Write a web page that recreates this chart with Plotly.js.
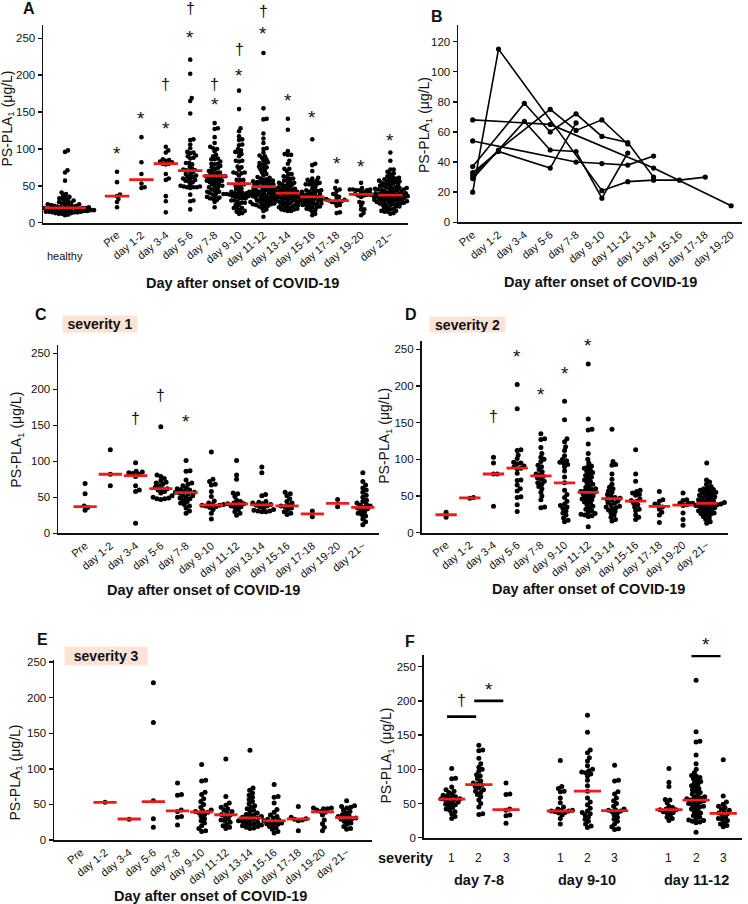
<!DOCTYPE html>
<html><head><meta charset="utf-8">
<script src="https://cdn.plot.ly/plotly-3.0.1.min.js"></script>
<style>html,body{margin:0;padding:0;background:#fff;} #chart{width:748px;height:904px;}</style>
</head><body><div id="chart"></div>
<script>
// ---------------- DATA ----------------
const dayLabels = ['Pre','day 1-2','day 3-4','day 5-6','day 7-8','day 9-10','day 11-12','day 13-14','day 15-16','day 17-18','day 19-20','day 21~'];

const healthyValues = [98,96,71,68,57,41,39,37,35,34,33,32,31,30,29,28,27,26,26,25,25,24,24,23,23,22,22,22,21,21,21,20,20,20,20,19,19,19,19,18,18,18,18,17,17,17,17,17,16,16,16,16,16,15,15,15,15,14,14,14,13,13,12,12,11,10];
const healthyMedian = 20;

// severity 1 (panel C), one list per day category
const sev1Values = [
  [69,55,38,36,32],
  [116,82,66],
  [98,86,85,84,83,82,79,66,60,58,14],
  [148,81,79,76,73,71,70,68,66,64,62,62,60,58,56,52,50,49,48,48,47],
  [101,87,86,74,70,68,66,63,62,61,60,58,57,57,56,55,53,52,50,49,48,46,44,42,40,38,35,31,28],
  [113,75,72,68,67,58,51,45,42,40,40,39,39,38,37,36,33,28,20],
  [101,81,75,56,55,51,46,44,42,41,41,40,38,37,36,33,30,28,25],
  [92,84,54,52,44,43,42,41,40,39,38,37,35,33,32,31,31,30,30],
  [57,55,52,48,44,42,39,38,37,35,33,30,28,26],
  [31,23],
  [47,37],
  [84,72,67,63,60,57,53,50,46,44,42,40,39,38,36,35,34,32,30,28,26,24,20,16,12]
];
const sev1Median = [37,82,80,62,56.5,39,41,39.5,38,27,41.5,36];

// severity 2 (panel D)
const sev2Values = [
  [28,21],
  [48,47],
  [103,95,80,80,36],
  [202,169,113,112,106,101,96,95,94,91,90,88,87,81,72,71,65,60,57,49,48,38,29],
  [135,128,127,116,108,103,100,97,92,90,86,83,80,79,77,75,73,70,68,66,63,60,55,50,45,35,34],
  [179,154,128,124,117,112,105,100,98,96,95,93,90,84,76,68,58,52,48,43,39,37,35,33,30,27,24,20,17,15],
  [230,155,141,140,121,108,100,95,91,90,88,86,84,82,80,78,76,74,72,70,68,66,64,62,60,59,58,57,56,55,54,53,52,50,49,48,46,45,44,42,40,38,36,34,32,30,28,26,25,24,23,22,8],
  [141,97,93,92,80,73,66,62,60,57,55,52,50,48,47,46,45,43,41,40,38,36,35,34,33,31,29,27,24,21,18,16],
  [113,80,70,58,56,54,52,51,46,44,43,40,38,35,32,30,24,21,18],
  [56,45,43,39,37,35,32,28,24,14],
  [54,45,44,40,38,37,27,18,10],
  [95,72,69,66,63,61,60,59,58,57,56,55,54,53,52,51,50,49,48,47,46,45,44,43,42,41,41,40,40,39,39,38,38,37,37,36,35,34,33,32,31,30,29,28,27,26,25,24,22,20,18,15,13]
];
const sev2Median = [24.5,47.5,80,88,77.5,68,55,46.5,43,36,37.5,40];

// severity 3 (panel E)
const sev3Values = [
  [],
  [53],
  [29],
  [221,165,55,30,18],
  [80,64,63,42,40,33,32,21],
  [106,84,83,67,64,58,54,50,46,42,41,40,39,38,36,33,30,27,24,20,16,13,12],
  [114,61,52,49,46,44,42,40,38,36,35,33,30,28,27,25,22,20,18,16],
  [126,73,70,66,63,60,57,54,51,48,46,44,42,40,38,36,35,34,33,32,31,30,29,28,27,26,25,24,23,22,21,20,19,18,17,16],
  [78,61,60,52,43,39,35,33,31,29,28,27,26,25,24,23,22,21,19,17,15,12,10],
  [47,32,30,29,28,27,13],
  [45,45,44,44,42,40,39,35,28,23,18,13],
  [55,48,47,46,45,42,40,38,36,34,33,32,31,30,29,28,26,24,22,19,16,15]
];
const sev3Median = [null,53,29.5,54,41,39.5,35.5,31,27,29.5,39.5,31.5];

// all patients (panel A) medians per day
const allMedian = [36,58.5,80,70.5,63.5,53,49,40,35,30,38.5,37.5];

// panel B: serial measurements per patient (Pre .. day 19-20)
const patient1 = [20,115,null,null,null,21,27,28,28,30,null];
const patient2 = [54,null,null,null,40,39,38,44,null,null,null];
const patient3 = [68,null,null,65,null,null,null,36,null,null,11];
const patient4 = [37,null,79,60,72,57,53,30,null,null,null];
const patient5 = [31,48,null,75,61,68,52,null,null,null,null];
const patient6 = [33,47,null,36,66,null,null,null,null,null,null];
const patient7 = [29,null,67,48,47,16,46,null,null,null,null];

// significance marks (category index, symbol, value level)
const sigA_cat = [0,1,2,2,3,3,4,4,5,5,6,6,7,8,9,10,11];
const sigA_sym = ['*','*','*','†','*','†','*','†','*','†','*','†','*','*','*','*','*'];
const sigA_y   = [99.5,147,133.5,187,257,291,165,188,205,235,261.5,286,171,148,85.5,81.5,117.5];
const sigC_cat = [2,3,4];
const sigC_sym = ['†','†','*'];
const sigC_y   = [160,192,161];
const sigD_cat = [2,3,4,5,6];
const sigD_sym = ['†','*','*','*','*'];
const sigD_y   = [158,245,194.5,222,260.5];

// panel F: compared days and severities
const fDays = ['day 7-8','day 9-10','day 11-12'];
const fDayIndex = [4,5,6];
const fSeverities = ['1','2','3'];
// significance between severity groups in F (group slot indices 0..8)
const fSigFrom = [0,1,7];
const fSigTo   = [1,2,8];
const fSigY    = [177,200,265.6];
const fSigSym  = ['†','*','*'];

// ---------------- LAYOUT HELPERS ----------------
const W = 748, H = 904;
const FONT = 'Liberation Sans, Arial, Helvetica, sans-serif';
const RED = '#f01a1a';
const BOX = '#fbe3d5';

const P = {
  A: {xd:[43.3,407.7], yd:[25,222.7], xr:[-3.02,11.91], yr:[0,268]},
  B: {xd:[458.3,741.7], yd:[25,222.3], xr:[-0.557,10.41], yr:[0,131]},
  C: {xd:[58.3,379], yd:[345,533.3], xr:[-1.06,11.64], yr:[0,261.5]},
  D: {xd:[421.7,728.3], yd:[340.7,532.7], xr:[-1.03,11.91], yr:[0,261.7]},
  E: {xd:[54.3,372], yd:[660,840], xr:[-1.1,12.05], yr:[0,253]},
  F: {xd:[424,741.7], yd:[655,837.7], xr:[-1.02,10.68], yr:[0,267]}
};
function pxX(p){return (p.xd[1]-p.xd[0])/(p.xr[1]-p.xr[0]);}
function pxY(p){return (p.yd[1]-p.yd[0])/(p.yr[1]-p.yr[0]);}
// paper fraction for a data value on panel p (for marks that sit above the axis range)
function yPaper(p, v){ return 1 - (p.yd[1] - v*pxY(p))/H; }

// beeswarm offsets (data units) computed from values
function swarm(values, p, diam){
  const sx = pxX(p), sy = pxY(p);
  const idx = values.map((v,i)=>i).sort((a,b)=>values[a]-values[b]);
  const placed = [], off = new Array(values.length);
  idx.forEach(i=>{
    const y = values[i]*sy;
    const near = placed.filter(q=>Math.abs(q.y-y)<diam);
    const c = [0];
    near.forEach(q=>{const dx=Math.sqrt(diam*diam-(q.y-y)*(q.y-y)); c.push(q.x+dx, q.x-dx);});
    c.sort((a,b)=>Math.abs(a)-Math.abs(b));
    let x = 0;
    for(const cx of c){ if(near.every(q=>(q.x-cx)*(q.x-cx)+(q.y-y)*(q.y-y)>=diam*diam-1e-6)){x=cx;break;} }
    placed.push({x,y}); off[i]=x/sx;
  });
  return off;
}

const traces = [];
const layout = {
  width:W, height:H, margin:{l:0,r:0,t:0,b:0}, paper_bgcolor:'#fff', plot_bgcolor:'rgba(0,0,0,0)',
  showlegend:false, font:{family:FONT, color:'#111'}, annotations:[], shapes:[]
};

function suffix(n){return n===1?'':String(n);}
function addAxes(n, p, xopts, yopts){
  const s = suffix(n);
  layout['xaxis'+s] = Object.assign({domain:[p.xd[0]/W,p.xd[1]/W], range:p.xr, anchor:'y'+s,
    showline:true, linecolor:'#111', linewidth:1.8, ticks:'', zeroline:false, showgrid:false,
    tickangle:-40, tickfont:{size:11,family:FONT,color:'#111'}, fixedrange:true}, xopts);
  layout['yaxis'+s] = Object.assign({domain:[1-p.yd[1]/H,1-p.yd[0]/H], range:p.yr, anchor:'x'+s,
    showline:true, linecolor:'#111', linewidth:1.8, ticks:'outside', ticklen:4, tickwidth:1.5, tickcolor:'#111',
    zeroline:false, showgrid:false, tick0:0, dtick:50, tickfont:{size:11.5,family:FONT,color:'#111'}, fixedrange:true}, yopts);
}

function addDots(n, p, positions, groups, size, diam){
  const xs=[], ys=[];
  groups.forEach((g,k)=>{
    if(!g || !g.length) return;
    const off = swarm(g, p, diam);
    g.forEach((v,i)=>{xs.push(positions[k]+off[i]); ys.push(v);});
  });
  const s = suffix(n);
  traces.push({type:'scatter', mode:'markers', x:xs, y:ys, xaxis:'x'+s, yaxis:'y'+s,
    marker:{size:size, color:'#000', line:{width:0}}, cliponaxis:false, hoverinfo:'skip'});
}
function addMedians(n, positions, medians, halfW){
  const xs=[], ys=[];
  medians.forEach((m,k)=>{
    if(m===null||m===undefined) return;
    const hw = Array.isArray(halfW)?halfW[k]:halfW;
    xs.push(positions[k]-hw, positions[k]+hw, null); ys.push(m,m,null);
  });
  const s = suffix(n);
  traces.push({type:'scatter', mode:'lines', x:xs, y:ys, xaxis:'x'+s, yaxis:'y'+s,
    line:{color:RED, width:2.8}, cliponaxis:false, hoverinfo:'skip'});
}
function paperText(text, xpx, ypx, o){
  o = o||{};
  layout.annotations.push(Object.assign({xref:'paper', yref:'paper', x:xpx/W, y:1-ypx/H, text:text,
    showarrow:false, xanchor:'center', yanchor:'middle',
    font:{family:FONT, size:o.size||14, color:'#111', weight:o.weight||400}}, o.extra||{}));
}
function sigMark(n, p, x, v, sym){
  const star = sym==='*';
  layout.annotations.push({xref:'x'+suffix(n), yref:'paper', x:x, y:yPaper(p, v), text:sym, showarrow:false,
    xanchor:'center', yanchor:'middle', yshift: star?-4:0,
    font:{family:FONT, size: star?19:16, color:'#111'}});
}
function sigMarks(n, p, positions, cats, syms, ys){
  cats.forEach((c,i)=> sigMark(n, p, positions[c], ys[i], syms[i]));
}
function yTitle(xpx, ypx){
  paperText('PS-PLA<sub>1</sub> (μg/L)', xpx, ypx, {size:14, extra:{textangle:-90}});
}
function xTitle(xpx, ypx){
  paperText('Day after onset of COVID-19', xpx, ypx, {size:14.5, weight:700});
}
function sevBox(text, x0, x1, y0, y1){
  paperText(text, (x0+x1)/2, (y0+y1)/2, {size:14, weight:700,
    extra:{bgcolor:BOX, width:x1-x0, height:y1-y0, borderpad:0, align:'center', valign:'middle'}});
}

// ---------------- PANEL A ----------------
const posA = dayLabels.map((d,i)=> i===11 ? 11.2 : i);
const posHealthy = -2.13;
addAxes(1, P.A, {tickvals:posA, ticktext:dayLabels}, {});
const allValues = dayLabels.map((d,i)=> sev1Values[i].concat(sev2Values[i], sev3Values[i]));
addDots(1, P.A, [posHealthy].concat(posA), [healthyValues].concat(allValues), 4.6, 3.3);
addMedians(1, [posHealthy].concat(posA), [healthyMedian].concat(allMedian), [0.85].concat(posA.map(()=>0.5)));
sigMarks(1, P.A, posA, sigA_cat, sigA_sym, sigA_y);
paperText('healthy', 65, 255.8, {size:11});
yTitle(7.5, 119); xTitle(242.8, 282.5);
paperText('A', 29, 8, {size:16, weight:700});

// ---------------- PANEL B ----------------
const posB = dayLabels.slice(0,11).map((d,i)=>i);
addAxes(2, P.B, {tickvals:posB, ticktext:dayLabels.slice(0,11)}, {dtick:20});
[patient1,patient2,patient3,patient4,patient5,patient6,patient7].forEach(pt=>{
  traces.push({type:'scatter', mode:'lines+markers', x:posB, y:pt, connectgaps:true, xaxis:'x2', yaxis:'y2',
    line:{color:'#000', width:1.6}, marker:{size:5.2, color:'#000'}, cliponaxis:false, hoverinfo:'skip'});
});
yTitle(425, 125); xTitle(600, 281.7);
paperText('B', 436.7, 16, {size:16, weight:700});

// ---------------- PANEL C ----------------
const posDays = dayLabels.map((d,i)=>i);
addAxes(3, P.C, {tickvals:posDays, ticktext:dayLabels}, {});
addDots(3, P.C, posDays, sev1Values, 5, 4);
addMedians(3, posDays, sev1Median, 0.46);
sigMarks(3, P.C, posDays, sigC_cat, sigC_sym, sigC_y);
yTitle(16.7, 440); xTitle(203.8, 590);
paperText('C', 40.8, 315, {size:16, weight:700});
sevBox('severity 1', 62.7, 136.7, 316, 332.3);

// ---------------- PANEL D ----------------
addAxes(4, P.D, {tickvals:posDays, ticktext:dayLabels}, {});
addDots(4, P.D, posDays, sev2Values, 5, 3.8);
addMedians(4, posDays, sev2Median, 0.45);
sigMarks(4, P.D, posDays, sigD_cat, sigD_sym, sigD_y);
yTitle(385, 435.8); xTitle(588.3, 589);
paperText('D', 410.8, 315, {size:16, weight:700});
sevBox('severity 2', 430, 505, 316.7, 331.7);

// ---------------- PANEL E ----------------
addAxes(5, P.E, {tickvals:posDays, ticktext:dayLabels}, {});
addDots(5, P.E, posDays, sev3Values, 5, 4);
addMedians(5, posDays, sev3Median, 0.48);
yTitle(15, 772.5); xTitle(210.8, 896);
paperText('E', 42.5, 639, {size:16, weight:700});
sevBox('severity 3', 64.3, 146.7, 646.7, 664.3);

// ---------------- PANEL F ----------------
addAxes(6, P.F, {showticklabels:false}, {});
const posF = [], groupsF = [], medF = [];
fDayIndex.forEach((di,g)=>{
  [sev1Values,sev2Values,sev3Values].forEach((sv,k)=>{ posF.push(g*4+k); groupsF.push(sv[di]); });
  [sev1Median,sev2Median,sev3Median].forEach(sm=>medF.push(sm[di]));
});
addDots(6, P.F, posF, groupsF, 5, 3.9);
addMedians(6, posF, medF, 0.5);
// significance bars between severity groups
fSigFrom.forEach((f,i)=>{
  const t = fSigTo[i];
  const x0 = posF[f]-0.17, x1 = posF[t]-0.1;
  traces.push({type:'scatter', mode:'lines', x:[x0,x1], y:[fSigY[i],fSigY[i]], xaxis:'x6', yaxis:'y6',
    line:{color:'#000', width:2.6}, cliponaxis:false, hoverinfo:'skip'});
  sigMark(6, P.F, (x0+x1)/2, fSigY[i] + (fSigSym[i]==='*'?22:24), fSigSym[i]);
});
paperText('severity', 405.7, 858.3, {size:14.5, weight:700});
posF.forEach((x,i)=>{
  layout.annotations.push({xref:'x6', yref:'paper', x:x, y:1-858.3/H, text:fSeverities[i%3], showarrow:false,
    xanchor:'center', yanchor:'middle', font:{family:FONT, size:12, color:'#111'}});
});
fDays.forEach((d,g)=>{
  layout.annotations.push({xref:'x6', yref:'paper', x:g*4+1, y:1-880/H, text:d, showarrow:false,
    xanchor:'center', yanchor:'middle', font:{family:FONT, size:14.5, color:'#111', weight:700}});
});
yTitle(386.7, 755.8);
paperText('F', 410, 641, {size:16, weight:700});

Plotly.newPlot('chart', traces, layout, {staticPlot:true, displayModeBar:false});
</script></body></html>
